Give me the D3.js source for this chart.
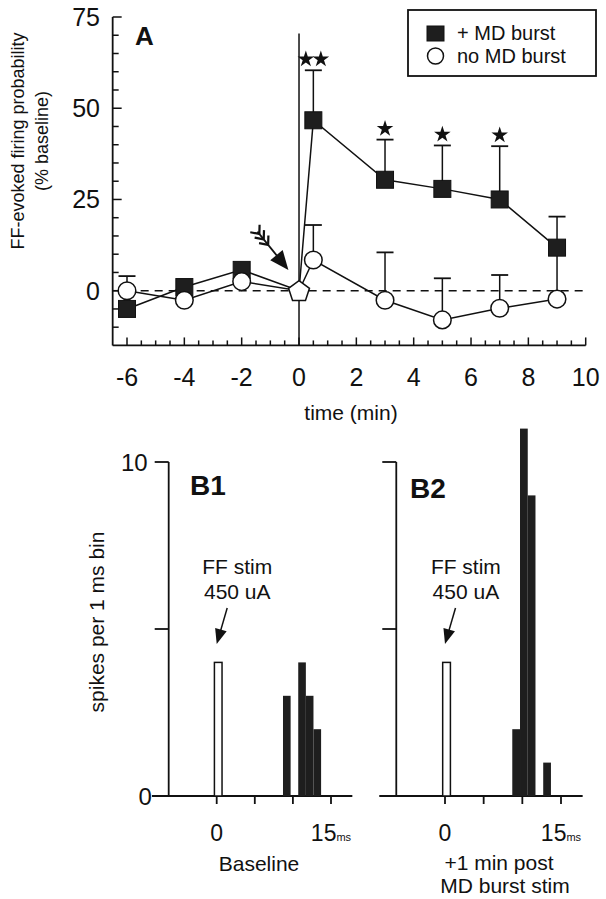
<!DOCTYPE html>
<html><head><meta charset="utf-8">
<script src="https://cdn.jsdelivr.net/npm/d3@7"></script>
<style>
body{margin:0;background:#fff}
svg{display:block}
text{font-family:"Liberation Sans",Arial,Helvetica,sans-serif;fill:#111}
</style>
</head><body>
<svg id="c" width="606" height="899"></svg>
<script>
// ---------- Panel A data ----------
const times        = [-6, -4, -2, 0, 0.5, 3, 5, 7, 9];
const mdBurst      = [-5, 1, 5.7, 0, 46.7, 30.4, 27.9, 25, 11.8];
const mdBurstTop   = [null, null, null, null, 60.4, 41.4, 39.8, 39.6, 20.3];
const noBurst      = [0, -2.6, 2.5, 0, 8.4, -2.6, -8, -4.8, -2.3];
const noBurstTop   = [4, null, null, null, 18, 10.5, 3.4, 4.3, 10];
const stars        = [0, 0, 0, 0, 2, 1, 1, 1, 0];
const yTicksA      = [0, 25, 50, 75];
const xTicksA      = [-6, -4, -2, 0, 2, 4, 6, 8, 10];
const legendLabels = ["+ MD burst", "no MD burst"];

// ---------- Panel B data ----------
const stimBinMs    = [0];
const stimCount    = [4];
const b1SpikeMs    = [9, 11, 12, 13];
const b1SpikeCount = [3, 4, 3, 2];
const b2SpikeMs    = [9, 10, 11, 13];
const b2SpikeCount = [2, 11, 9, 1];
const xTicksB      = [0, 5, 10, 15];
const yTicksB      = [0, 5, 10];

const svg = d3.select("#c");
const ink = "#111";

// ================= PANEL A =================
const xA = d3.scaleLinear().domain([-6, 10]).range([127, 585.7]);
const yA = d3.scaleLinear().domain([0, 75]).range([290.7, 17]);
const gA = svg.append("g");

// axes
const yMinA = -15, xMinA = -6.5;
gA.append("line").attr("x1", xA(xMinA)).attr("x2", xA(xMinA))
  .attr("y1", yA(75)).attr("y2", yA(yMinA)).attr("stroke", ink).attr("stroke-width", 1.8);
gA.append("line").attr("x1", xA(xMinA)).attr("x2", xA(10))
  .attr("y1", yA(yMinA)).attr("y2", yA(yMinA)).attr("stroke", ink).attr("stroke-width", 1.8);
d3.range(-10, 76, 5).forEach(v => {
  const major = v % 25 === 0;
  gA.append("line").attr("x1", xA(xMinA)).attr("x2", xA(xMinA) + (major ? 9 : 6))
    .attr("y1", yA(v)).attr("y2", yA(v)).attr("stroke", ink).attr("stroke-width", 1.5);
});
yTicksA.forEach(v => {
  gA.append("text").attr("x", 100).attr("y", yA(v)).attr("dy", "0.36em")
    .attr("text-anchor", "end").attr("font-size", 25).text(String(v));
});
d3.range(-6, 10.01, 0.5).forEach(v => {
  const major = Math.abs(v % 2) < 1e-9;
  gA.append("line").attr("x1", xA(v)).attr("x2", xA(v))
    .attr("y1", yA(yMinA)).attr("y2", yA(yMinA) - (major ? 8 : 5)).attr("stroke", ink).attr("stroke-width", 1.5);
});
xTicksA.forEach(v => {
  gA.append("text").attr("x", xA(v)).attr("y", 386).attr("text-anchor", "middle")
    .attr("font-size", 25).text(String(v));
});
gA.append("text").attr("x", 351).attr("y", 420).attr("text-anchor", "middle")
  .attr("font-size", 21).text("time (min)");
const yl = gA.append("text").attr("font-size", 18).attr("text-anchor", "middle");
yl.append("tspan").attr("x", 0).attr("y", 0).text("FF-evoked firing probability");
yl.append("tspan").attr("x", 0).attr("y", 24).text("(% baseline)");
yl.attr("transform", "translate(24,141) rotate(-90)");

gA.append("text").attr("x", 135).attr("y", 45).attr("font-size", 26)
  .attr("font-weight", "bold").text("A");

// reference lines
gA.append("line").attr("x1", xA(0)).attr("x2", xA(0))
  .attr("y1", yA(70.5)).attr("y2", yA(yMinA)).attr("stroke", ink).attr("stroke-width", 1.5);
gA.append("line").attr("x1", xA(xMinA)).attr("x2", xA(10))
  .attr("y1", yA(0)).attr("y2", yA(0)).attr("stroke", ink).attr("stroke-width", 1.5)
  .attr("stroke-dasharray", "8,6");

const rowsA = times.map((t, i) => ({t, md: mdBurst[i], mdTop: mdBurstTop[i],
  nb: noBurst[i], nbTop: noBurstTop[i], stars: stars[i]}));

// error bars (upward)
function errBars(key, topKey) {
  rowsA.filter(d => d[topKey] != null).forEach(d => {
    gA.append("line").attr("x1", xA(d.t)).attr("x2", xA(d.t))
      .attr("y1", yA(d[key])).attr("y2", yA(d[topKey])).attr("stroke", ink).attr("stroke-width", 1.5);
    gA.append("line").attr("x1", xA(d.t) - 8.5).attr("x2", xA(d.t) + 8.5)
      .attr("y1", yA(d[topKey])).attr("y2", yA(d[topKey])).attr("stroke", ink).attr("stroke-width", 1.8);
  });
}
errBars("md", "mdTop");
errBars("nb", "nbTop");

// lines
const lineMd = d3.line().x(d => xA(d.t)).y(d => yA(d.md));
const lineNb = d3.line().x(d => xA(d.t)).y(d => yA(d.nb));
gA.append("path").attr("d", lineMd(rowsA)).attr("fill", "none").attr("stroke", ink).attr("stroke-width", 1.5);
gA.append("path").attr("d", lineNb(rowsA)).attr("fill", "none").attr("stroke", ink).attr("stroke-width", 1.5);

// markers
rowsA.filter(d => d.t !== 0).forEach(d => {
  gA.append("rect").attr("x", xA(d.t) - 8.5).attr("y", yA(d.md) - 8.5)
    .attr("width", 17).attr("height", 17).attr("fill", "#1e1e1e").attr("stroke", ink).attr("stroke-width", 1);
});
rowsA.filter(d => d.t !== 0).forEach(d => {
  gA.append("circle").attr("cx", xA(d.t)).attr("cy", yA(d.nb)).attr("r", 8.8)
    .attr("fill", "#fff").attr("stroke", ink).attr("stroke-width", 1.5);
});
// pentagon at time 0
const pent = d3.range(5).map(k => {
  const a = -Math.PI / 2 + k * 2 * Math.PI / 5;
  return [xA(0) + 11 * Math.cos(a), yA(0) + 1 + 11 * Math.sin(a)];
});
gA.append("path").attr("d", "M" + pent.join("L") + "Z").attr("fill", "#fff")
  .attr("stroke", ink).attr("stroke-width", 1.5);

// significance stars
const star = d3.symbol().type(d3.symbolStar).size(85);
rowsA.filter(d => d.stars > 0).forEach(d => {
  for (let k = 0; k < d.stars; k++) {
    const off = d.stars === 2 ? (k === 0 ? -7.5 : 7.5) : 0;
    gA.append("path").attr("d", star())
      .attr("transform", `translate(${xA(d.t) + off},${yA(d.mdTop) - 11})`).attr("fill", ink);
  }
});

// feathered arrow pointing to the MD burst
(function () {
  const tip = [xA(-0.37), yA(5.7)], tail = [xA(-1.45), yA(16.2)];
  const dx = tip[0] - tail[0], dy = tip[1] - tail[1], L = Math.hypot(dx, dy);
  const ux = dx / L, uy = dy / L, px = -uy, py = ux;
  gA.append("line").attr("x1", tail[0]).attr("y1", tail[1])
    .attr("x2", tip[0] - ux * 10).attr("y2", tip[1] - uy * 10).attr("stroke", ink).attr("stroke-width", 1.8);
  const hl = 19, hw = 8;
  const b = [tip[0] - ux * hl, tip[1] - uy * hl];
  gA.append("path").attr("d", `M${tip}L${b[0] + px * hw},${b[1] + py * hw}L${b[0] - px * hw},${b[1] - py * hw}Z`)
    .attr("fill", ink);
  [3, 10, 17].forEach(s => {
    const c = [tail[0] + ux * s, tail[1] + uy * s];
    [1, -1].forEach(sg => {
      gA.append("line").attr("x1", c[0]).attr("y1", c[1])
        .attr("x2", c[0] - ux * 7 + px * sg * 6).attr("y2", c[1] - uy * 7 + py * sg * 6)
        .attr("stroke", ink).attr("stroke-width", 2.2);
    });
  });
})();

// legend
gA.append("rect").attr("x", 408).attr("y", 10).attr("width", 188).attr("height", 66)
  .attr("fill", "#fff").attr("stroke", ink).attr("stroke-width", 1.8);
gA.append("rect").attr("x", 427).attr("y", 26).attr("width", 17).attr("height", 15)
  .attr("fill", "#1e1e1e").attr("stroke", ink);
gA.append("circle").attr("cx", 435.5).attr("cy", 56).attr("r", 8)
  .attr("fill", "#fff").attr("stroke", ink).attr("stroke-width", 1.5);
legendLabels.forEach((l, i) => {
  gA.append("text").attr("x", 457).attr("y", 40 + i * 23).attr("font-size", 20).text(l);
});

// ================= PANEL B =================
const yB = d3.scaleLinear().domain([0, 10]).range([796, 462]);
const panelsB = [
  {name: "B1", range: [216.7, 331], ms: b1SpikeMs, counts: b1SpikeCount, yLabels: true,
   nameX: 190, nameY: 495},
  {name: "B2", range: [445, 561], ms: b2SpikeMs, counts: b2SpikeCount, yLabels: false,
   nameX: 410, nameY: 498}
];
const binOff = -0.3;

panelsB.forEach(p => {
  const xs = d3.scaleLinear().domain([0, 15]).range(p.range);
  const g = svg.append("g");
  // axes
  g.append("line").attr("x1", xs(-6.3)).attr("x2", xs(-6.3)).attr("y1", yB(10)).attr("y2", yB(0))
    .attr("stroke", ink).attr("stroke-width", 1.8);
  g.append("line").attr("x1", xs(-8.5)).attr("x2", xs(17.8)).attr("y1", yB(0)).attr("y2", yB(0))
    .attr("stroke", ink).attr("stroke-width", 1.8);
  yTicksB.filter(v => v > 0).forEach(v => {
    g.append("line").attr("x1", xs(-6.3) - 14).attr("x2", xs(-6.3)).attr("y1", yB(v)).attr("y2", yB(v))
      .attr("stroke", ink).attr("stroke-width", 1.8);
  });
  if (p.yLabels) {
    yTicksB.filter(v => v !== 5).forEach(v => {
      g.append("text").attr("x", v === 0 ? xs(-8.5) : xs(-6.3) - 21).attr("y", yB(v)).attr("dy", "0.36em")
        .attr("text-anchor", "end").attr("font-size", 24).text(String(v));
    });
  }
  xTicksB.forEach(v => {
    g.append("line").attr("x1", xs(v)).attr("x2", xs(v)).attr("y1", yB(0)).attr("y2", yB(0) + 8)
      .attr("stroke", ink).attr("stroke-width", 1.8);
  });
  g.append("text").attr("x", xs(0)).attr("y", 841).attr("text-anchor", "middle")
    .attr("font-size", 23).text("0");
  const t15 = g.append("text").attr("x", xs(15)).attr("y", 841).attr("text-anchor", "middle")
    .attr("font-size", 23);
  t15.append("tspan").text("15");
  t15.append("tspan").attr("font-size", 11).text("ms");

  // bars
  stimBinMs.forEach((m, i) => {
    g.append("rect").attr("x", xs(m + binOff)).attr("width", xs(m + binOff + 1) - xs(m + binOff))
      .attr("y", yB(stimCount[i])).attr("height", yB(0) - yB(stimCount[i]))
      .attr("fill", "#fff").attr("stroke", ink).attr("stroke-width", 1.5);
  });
  p.ms.forEach((m, i) => {
    g.append("rect").attr("x", xs(m + binOff)).attr("width", xs(m + binOff + 1) - xs(m + binOff))
      .attr("y", yB(p.counts[i])).attr("height", yB(0) - yB(p.counts[i]))
      .attr("fill", "#1e1e1e");
  });

  // panel name
  g.append("text").attr("x", p.nameX).attr("y", p.nameY).attr("font-size", 28)
    .attr("font-weight", "bold").text(p.name);

  // stim annotation
  const cx = xs(2.7);
  g.append("text").attr("x", cx).attr("y", 574).attr("text-anchor", "middle").attr("font-size", 21).text("FF stim");
  g.append("text").attr("x", cx).attr("y", 599).attr("text-anchor", "middle").attr("font-size", 21).text("450 uA");
  const tip = [xs(0), yB(4.55)], tail = [tip[0] + 10.5, tip[1] - 36];
  const dx = tip[0] - tail[0], dy = tip[1] - tail[1], L = Math.hypot(dx, dy);
  const ux = dx / L, uy = dy / L, px = -uy, py = ux;
  g.append("line").attr("x1", tail[0]).attr("y1", tail[1]).attr("x2", tip[0] - ux * 8).attr("y2", tip[1] - uy * 8)
    .attr("stroke", ink).attr("stroke-width", 1.5);
  const b = [tip[0] - ux * 15, tip[1] - uy * 15];
  g.append("path").attr("d", `M${tip}L${b[0] + px * 6},${b[1] + py * 6}L${b[0] - px * 6},${b[1] - py * 6}Z`)
    .attr("fill", ink);
});

svg.append("text").attr("font-size", 21).attr("text-anchor", "middle")
  .attr("transform", "translate(97,622) rotate(-90)").attr("dy", "0.35em").text("spikes per 1 ms bin");
svg.append("text").attr("x", 259).attr("y", 871).attr("text-anchor", "middle").attr("font-size", 21).text("Baseline");
svg.append("text").attr("x", 499).attr("y", 870).attr("text-anchor", "middle").attr("font-size", 21).text("+1 min post");
svg.append("text").attr("x", 505).attr("y", 893).attr("text-anchor", "middle").attr("font-size", 21).text("MD burst stim");
</script>
</body></html>
